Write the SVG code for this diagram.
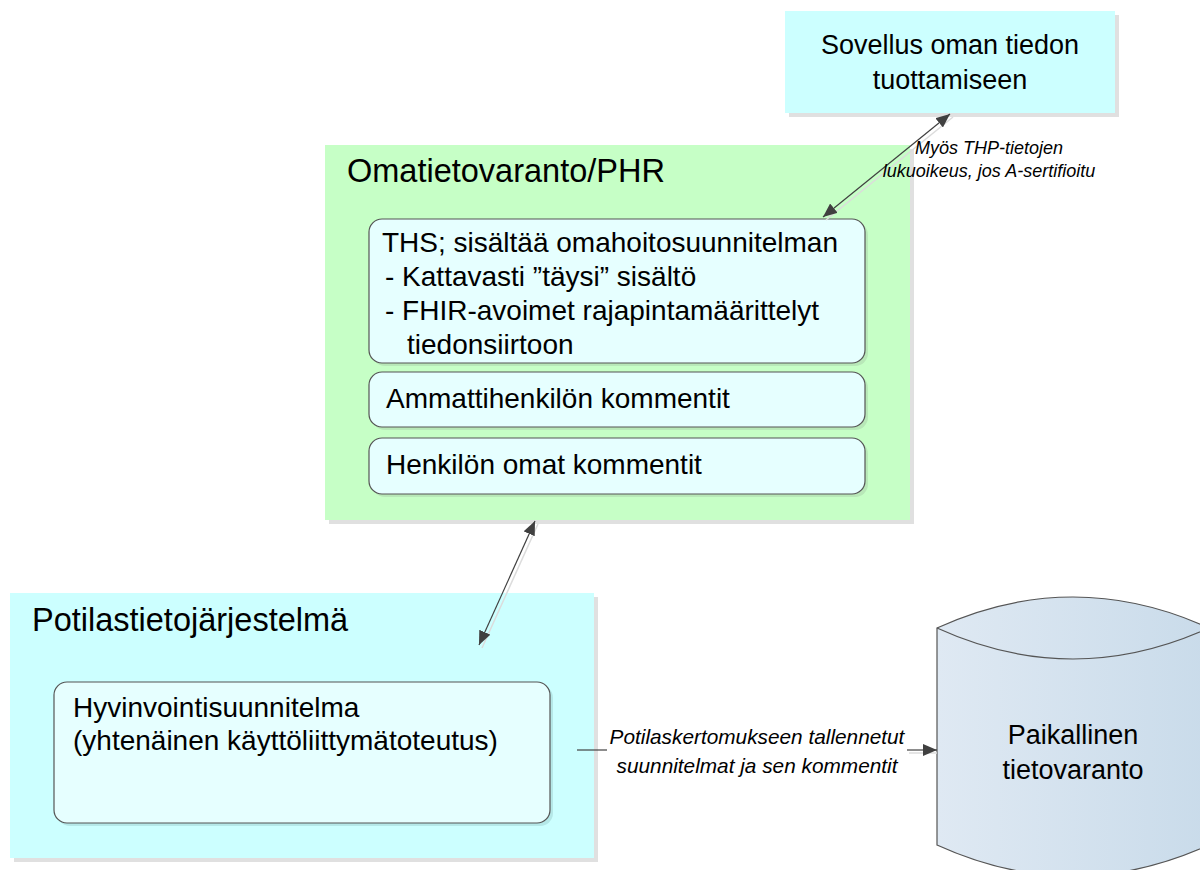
<svg xmlns="http://www.w3.org/2000/svg" width="1200" height="870" viewBox="0 0 1200 870">
<style>
.t{font-family:"Liberation Sans",Arial,sans-serif;fill:#000}
.b{font-size:27px}
.c{font-size:28px}
.h{font-size:32.5px}
.i{font-family:"Liberation Sans",Arial,sans-serif;font-style:italic;fill:#000}
.sh{fill:#e0e0e0}
.inner{fill:#e6ffff;stroke:#555;stroke-width:1.2}
.ish{fill:#b8e8b8}
.conn{stroke:#404040;stroke-width:1.2;fill:none}
.cs{stroke:#dcdcdc;stroke-width:1.5;fill:none}
</style>
<defs>
<marker id="ah" viewBox="0 0 14 12" refX="14" refY="6" markerWidth="14" markerHeight="12" markerUnits="userSpaceOnUse" orient="auto-start-reverse">
<path d="M0,0 L14,6 L0,12 Z" fill="#404040"/>
</marker>
<linearGradient id="cyl" x1="0" y1="0" x2="1" y2="0">
<stop offset="0" stop-color="#dfe9f3"/>
<stop offset="1" stop-color="#c9dbea"/>
</linearGradient>
</defs>
<rect width="1200" height="870" fill="#fff"/>

<g id="sovellus">
<rect class="sh" x="789" y="15" width="330" height="102"/>
<rect x="785" y="11" width="330" height="102" fill="#ccffff"/>
<text class="t b" x="950" y="54" text-anchor="middle">Sovellus oman tiedon</text>
<text class="t b" x="950" y="89" text-anchor="middle">tuottamiseen</text>
</g>

<g id="omatietovaranto">
<rect class="sh" x="329" y="149" width="585" height="375"/>
<rect x="325" y="145" width="585" height="375" fill="#c6ffc6"/>
<text class="t h" x="347" y="182">Omatietovaranto/PHR</text>
</g>

<g id="ths">
<rect class="ish" x="372" y="222" width="496" height="144" rx="13"/>
<rect class="inner" x="369" y="219" width="496" height="144" rx="13"/>
<text class="t c" x="382" y="252">THS; sisältää omahoitosuunnitelman</text>
<text class="t c" x="385" y="286"> - Kattavasti ”täysi” sisältö</text>
<text class="t c" x="385" y="320"> - FHIR-avoimet rajapintamäärittelyt</text>
<text class="t c" x="407" y="354">tiedonsiirtoon</text>
</g>

<g id="ammatti">
<rect class="ish" x="372" y="375" width="496" height="55" rx="13"/>
<rect class="inner" x="369" y="372" width="496" height="55" rx="13"/>
<text class="t c" x="386" y="408">Ammattihenkilön kommentit</text>
</g>

<g id="henkilo">
<rect class="ish" x="372" y="441" width="496" height="56" rx="13"/>
<rect class="inner" x="369" y="438" width="496" height="56" rx="13"/>
<text class="t c" x="386" y="474">Henkilön omat kommentit</text>
</g>

<g id="potilastietojarjestelma">
<rect class="sh" x="14" y="597" width="584" height="265"/>
<rect x="10" y="593" width="584" height="265" fill="#ccffff"/>
<text class="t h" x="32" y="631">Potilastietojärjestelmä</text>
</g>

<g id="hyvinvointisuunnitelma">
<rect x="57" y="685" width="496" height="141" rx="13" fill="#b5e8e8"/>
<rect class="inner" x="54" y="682" width="496" height="141" rx="13"/>
<text class="t c" x="73" y="717">Hyvinvointisuunnitelma</text>
<text class="t c" x="73" y="750">(yhtenäinen käyttöliittymätoteutus)</text>
</g>

<g id="paikallinen">
<path d="M937,628 Q1073,566 1209,628 L1209,845 Q1073,907 937,845 Z" fill="url(#cyl)" stroke="#555" stroke-width="1.2"/>
<path d="M937,628 Q1073,690 1209,628" fill="none" stroke="#555" stroke-width="1.2"/>
<text class="t b" x="1073" y="744" text-anchor="middle">Paikallinen</text>
<text class="t b" x="1073" y="779" text-anchor="middle">tietovaranto</text>
</g>

<g id="connectors">
<line class="cs" x1="826" y1="220" x2="953" y2="117"/>
<line class="conn" x1="823" y1="217" x2="950" y2="114" marker-start="url(#ah)" marker-end="url(#ah)"/>
<text class="i" font-size="18" x="989" y="154" text-anchor="middle">Myös THP-tietojen</text>
<text class="i" font-size="18" x="989" y="177" text-anchor="middle">lukuoikeus, jos A-sertifioitu</text>

<line class="cs" x1="538" y1="524" x2="482" y2="648"/>
<line class="conn" x1="535" y1="521" x2="479" y2="645" marker-start="url(#ah)" marker-end="url(#ah)"/>

<line class="cs" x1="909" y1="753" x2="937" y2="753"/>
<line class="conn" x1="577" y1="750" x2="607" y2="750"/>
<line class="conn" x1="907" y1="750" x2="937" y2="750" marker-end="url(#ah)"/>
<text class="i" font-size="20.8" x="757" y="744" text-anchor="middle">Potilaskertomukseen tallennetut</text>
<text class="i" font-size="20.8" x="757" y="773" text-anchor="middle">suunnitelmat ja sen kommentit</text>
</g>
</svg>
